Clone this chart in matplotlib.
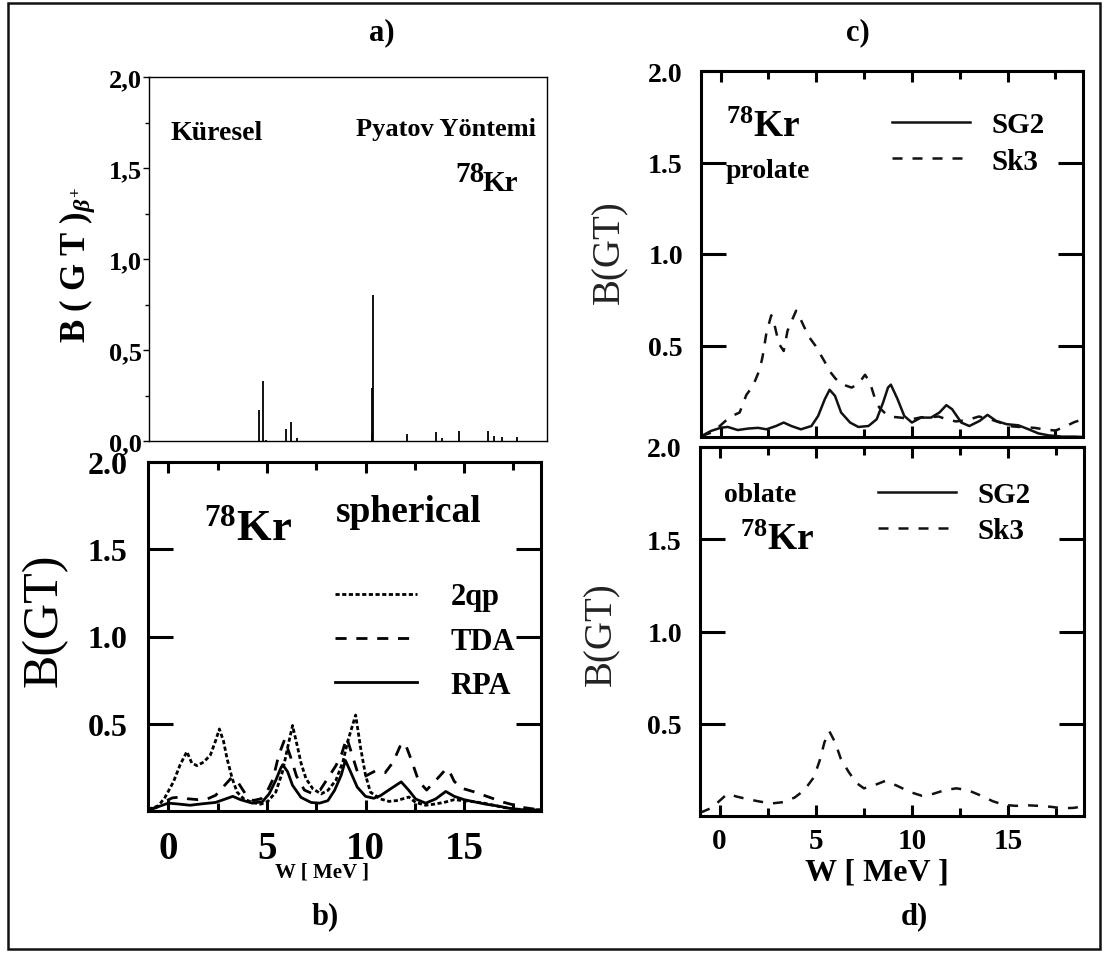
import numpy as np
import matplotlib
matplotlib.use('Agg')
import matplotlib.pyplot as plt
from matplotlib.patches import Rectangle
from matplotlib.ticker import MultipleLocator, FuncFormatter

plt.rcParams['font.family'] = ['Liberation Serif', 'DejaVu Serif']
plt.rcParams['font.weight'] = 'bold'
plt.rcParams['mathtext.fontset'] = 'custom'
plt.rcParams['mathtext.rm'] = 'Liberation Serif:bold'
plt.rcParams['mathtext.bf'] = 'Liberation Serif:bold'
plt.rcParams['mathtext.it'] = 'Liberation Serif:italic:bold'

# ---- panel a: Pyatov stick spectrum (W [MeV], B(GT))
a_energy = [4.49, 4.66, 4.83, 5.83, 6.07, 6.37, 10.12, 10.15, 10.20, 11.87,
            13.34, 13.63, 14.49, 15.93, 16.25, 16.66, 17.41]
a_bgt = [0.17, 0.33, 0.007, 0.068, 0.102, 0.018, 0.038, 0.29, 0.80, 0.04,
         0.05, 0.018, 0.057, 0.055, 0.027, 0.022, 0.022]

# ---- panel b: spherical 2qp / TDA / RPA
b_2qp = np.array([
    [-1.0, 0.01], [-0.5, 0.03], [-0.17, 0.078], [0.26, 0.167], [0.6, 0.265],
    [0.94, 0.34], [1.19, 0.275], [1.45, 0.26], [1.79, 0.28], [2.13, 0.32],
    [2.39, 0.40], [2.59, 0.47], [2.8, 0.40], [2.98, 0.30], [3.24, 0.186],
    [3.49, 0.108], [3.83, 0.069], [4.26, 0.049], [4.68, 0.039], [5.03, 0.053],
    [5.45, 0.108], [5.79, 0.225], [6.05, 0.363], [6.3, 0.49], [6.56, 0.363],
    [6.73, 0.275], [6.98, 0.186], [7.33, 0.127], [7.75, 0.098], [8.09, 0.118],
    [8.5, 0.176], [8.86, 0.284], [9.1, 0.40], [9.5, 0.55], [9.75, 0.363],
    [10.0, 0.206], [10.25, 0.108], [10.76, 0.069], [11.19, 0.055], [11.6, 0.06],
    [12.2, 0.08], [12.54, 0.049], [13.05, 0.033], [13.47, 0.039], [13.98, 0.049],
    [14.5, 0.065], [15.0, 0.059], [15.5, 0.053], [16.0, 0.045], [16.5, 0.033],
    [17.0, 0.02], [17.7, 0.01], [18.9, 0.006]])
b_tda = np.array([
    [-1.0, 0.01], [-0.6, 0.02], [-0.25, 0.05], [0.2, 0.075], [0.6, 0.08],
    [1.0, 0.07], [1.5, 0.065], [2.0, 0.07], [2.4, 0.09], [2.8, 0.14],
    [3.2, 0.19], [3.5, 0.17], [3.9, 0.1], [4.3, 0.06], [4.7, 0.07],
    [5.0, 0.11], [5.3, 0.18], [5.6, 0.32], [5.9, 0.41], [6.2, 0.31],
    [6.5, 0.2], [6.9, 0.12], [7.3, 0.1], [7.7, 0.12], [8.1, 0.19],
    [8.5, 0.26], [8.8, 0.33], [9.05, 0.42], [9.3, 0.33], [9.6, 0.22],
    [10.0, 0.2], [10.5, 0.23], [11.0, 0.22], [11.4, 0.28], [11.75, 0.37],
    [12.0, 0.39], [12.3, 0.3], [12.7, 0.17], [13.1, 0.12], [13.6, 0.18],
    [14.0, 0.23], [14.2, 0.24], [14.5, 0.17], [14.9, 0.13], [15.5, 0.11],
    [16.0, 0.09], [16.5, 0.07], [17.0, 0.05], [17.5, 0.035], [18.0, 0.02],
    [18.5, 0.012], [18.9, 0.008]])
b_rpa = np.array([
    [-1.0, 0.005], [-0.5, 0.025], [0.0, 0.045], [0.51, 0.04], [1.1, 0.033],
    [1.7, 0.041], [2.39, 0.049], [2.9, 0.069], [3.27, 0.084], [3.66, 0.065],
    [4.26, 0.045], [4.77, 0.053], [5.11, 0.098], [5.45, 0.176], [5.7, 0.245],
    [5.8, 0.265], [6.05, 0.225], [6.3, 0.147], [6.73, 0.078], [7.24, 0.049],
    [7.67, 0.045], [8.09, 0.059], [8.43, 0.118], [8.77, 0.206], [8.98, 0.29],
    [9.24, 0.225], [9.58, 0.137], [10.0, 0.084], [10.42, 0.073], [10.76, 0.088],
    [11.27, 0.127], [11.81, 0.167], [12.2, 0.118], [12.54, 0.069], [13.05, 0.045],
    [13.56, 0.069], [14.07, 0.112], [14.5, 0.084], [15.0, 0.065], [15.5, 0.053],
    [16.1, 0.039], [16.7, 0.029], [17.37, 0.014], [18.05, 0.006], [18.9, 0.006]])

# ---- panel c: prolate SG2 / Sk3
c_sg2 = np.array([
    [-1.0, 0.005], [-0.5, 0.033], [0.0, 0.05], [0.38, 0.055], [0.9, 0.038],
    [1.43, 0.046], [1.96, 0.05], [2.4, 0.042], [2.9, 0.06], [3.3, 0.079],
    [3.7, 0.06], [4.2, 0.042], [4.75, 0.06], [5.1, 0.115], [5.45, 0.207],
    [5.7, 0.258], [5.98, 0.225], [6.3, 0.134], [6.77, 0.079], [7.2, 0.055],
    [7.73, 0.06], [8.16, 0.097], [8.5, 0.19], [8.75, 0.27], [8.9, 0.286],
    [9.25, 0.207], [9.6, 0.115], [10.0, 0.079], [10.47, 0.106], [11.0, 0.106],
    [11.44, 0.134], [11.8, 0.174], [12.1, 0.152], [12.58, 0.079], [13.0, 0.06],
    [13.54, 0.088], [13.95, 0.121], [14.4, 0.088], [14.95, 0.07], [15.56, 0.064],
    [16.1, 0.042], [16.6, 0.02], [17.14, 0.009], [17.84, 0.002], [18.54, 0.002],
    [18.9, 0.0]])
c_sk3 = np.array([
    [-1.0, 0.005], [-0.4, 0.027], [0.5, 0.11], [1.0, 0.134], [1.35, 0.23],
    [1.7, 0.28], [2.05, 0.37], [2.2, 0.44], [2.4, 0.57], [2.65, 0.665],
    [2.85, 0.6], [3.05, 0.51], [3.3, 0.47], [3.5, 0.58], [3.7, 0.63],
    [3.95, 0.69], [4.2, 0.64], [4.6, 0.55], [4.95, 0.5], [5.45, 0.41],
    [5.7, 0.36], [6.0, 0.32], [6.3, 0.29], [6.85, 0.27], [7.2, 0.29],
    [7.55, 0.34], [7.8, 0.3], [8.1, 0.2], [8.3, 0.16], [8.7, 0.12],
    [9.0, 0.11], [9.4, 0.106], [10.0, 0.097], [10.5, 0.108], [11.0, 0.108],
    [11.4, 0.112], [11.8, 0.097], [12.3, 0.085], [12.9, 0.093], [13.5, 0.112],
    [14.0, 0.1], [14.6, 0.079], [15.0, 0.06], [15.6, 0.055], [16.4, 0.05],
    [16.9, 0.042], [17.5, 0.035], [18.0, 0.057], [18.5, 0.082], [18.9, 0.095]])

# ---- panel d: oblate Sk3
d_sk3 = np.array([
    [-1.0, 0.018], [-0.4, 0.045], [0.4, 0.12], [0.9, 0.105], [1.5, 0.09],
    [2.1, 0.078], [2.7, 0.068], [3.3, 0.075], [3.9, 0.10], [4.4, 0.14],
    [4.9, 0.21], [5.2, 0.30], [5.45, 0.40], [5.7, 0.46], [6.0, 0.40],
    [6.3, 0.31], [6.7, 0.24], [7.1, 0.18], [7.5, 0.15], [8.0, 0.165],
    [8.6, 0.19], [9.2, 0.165], [9.9, 0.13], [10.5, 0.11], [11.1, 0.12],
    [11.7, 0.14], [12.3, 0.15], [12.9, 0.14], [13.6, 0.11], [14.2, 0.08],
    [14.8, 0.06], [15.4, 0.055], [16.0, 0.058], [16.6, 0.055], [17.2, 0.05],
    [17.8, 0.042], [18.4, 0.044], [18.9, 0.052]])

W, H = 1105, 954
fig = plt.figure(figsize=(W / 100, H / 100), dpi=100)


def rect(l, t, r, b):
    return [l / W, 1 - b / H, (r - l) / W, (b - t) / H]


def framed(ax, lw=2.2):
    for s in ax.spines.values():
        s.set_linewidth(lw)
    ax.set_ylim(0, 2.0)
    ax.set_yticks([0.5, 1.0, 1.5, 2.0])
    ax.xaxis.set_major_locator(MultipleLocator(5))
    ax.xaxis.set_minor_locator(MultipleLocator(2.5))
    ax.tick_params(axis='y', which='major', direction='in', length=18,
                   width=lw, left=True, right=True)
    ax.tick_params(axis='x', which='major', direction='in', length=8,
                   width=lw, top=True, bottom=True)
    ax.tick_params(axis='x', which='minor', direction='in', length=6,
                   width=lw, top=True, bottom=True)


# ---------------- panel a
ax_a = fig.add_axes(rect(149, 78, 547, 442))
ax_a.vlines(a_energy, 0, a_bgt, color='k', lw=1.3)
ax_a.set_xlim(-1.03, 18.9)
ax_a.set_ylim(0, 2.0)
ax_a.yaxis.set_major_locator(MultipleLocator(0.5))
ax_a.yaxis.set_minor_locator(MultipleLocator(0.25))
ax_a.yaxis.set_major_formatter(FuncFormatter(lambda v, _: f'{v:.1f}'.replace('.', ',')))
ax_a.tick_params(axis='y', which='major', direction='out', length=4, width=1, pad=1,
                 labelsize=19)
ax_a.tick_params(axis='y', which='minor', direction='out', length=3, width=1)
ax_a.set_xticks([])
for s in ax_a.spines.values():
    s.set_linewidth(1.0)
ax_a.set_ylabel(r'B ( G T )$_{\beta^{+}}$', fontsize=25, fontweight='bold')
ax_a.yaxis.set_label_coords(-0.13, 0.486)
ax_a.text(0.055, 0.83, 'Küresel', transform=ax_a.transAxes, fontsize=20,
          va='baseline')
ax_a.text(0.52, 0.84, 'Pyatov Yöntemi', transform=ax_a.transAxes, fontsize=19,
          va='baseline')
ax_a.text(0.77, 0.715, '78', transform=ax_a.transAxes, fontsize=21, va='baseline')
ax_a.text(0.837, 0.69, 'Kr', transform=ax_a.transAxes, fontsize=21, va='baseline')

# ---------------- panel b
ax_b = fig.add_axes(rect(148, 463, 541, 812))
ax_b.plot(b_2qp[:, 0], b_2qp[:, 1], color='k', lw=2.0, ls=(0, (1.5, 0.9)), label='2qp')
ax_b.plot(b_tda[:, 0], b_tda[:, 1], color='k', lw=2.0, ls=(0, (4, 3.5)), label='TDA')
ax_b.plot(b_rpa[:, 0], b_rpa[:, 1], color='k', lw=2.0, label='RPA')
ax_b.set_xlim(-1.03, 18.9)
framed(ax_b, 2.2)
ax_b.tick_params(axis='y', labelsize=23, pad=15)
ax_b.tick_params(axis='x', labelsize=28, pad=14)
ax_b.set_ylabel('B(GT)', fontsize=36)
ax_b.yaxis.set_label_coords(-0.205, 0.55)
ax_b.text(0.1425, 0.779, r'$^{78}$Kr', transform=ax_b.transAxes, fontsize=32,
          va='baseline')
ax_b.text(0.478, 0.831, 'spherical', transform=ax_b.transAxes, fontsize=27,
          va='baseline')
ax_b.legend(loc='upper left', bbox_to_anchor=(0.476, 0.655), frameon=False,
            fontsize=22, handlelength=2.68, handletextpad=1.1, labelspacing=0.5,
            borderpad=0, borderaxespad=0)

# ---------------- panel c
ax_c = fig.add_axes(rect(701, 72, 1083, 438))
ax_c.plot(c_sg2[:, 0], c_sg2[:, 1], color='#111111', lw=1.8, label='SG2')
ax_c.plot(c_sk3[:, 0], c_sk3[:, 1], color='#111111', lw=1.8, ls=(0, (4, 4)),
          label='Sk3')
ax_c.set_xlim(-1.02, 18.94)
framed(ax_c, 2.2)
ax_c.tick_params(axis='y', labelsize=20, pad=13)
ax_c.tick_params(axis='x', labelbottom=False)
ax_c.set_ylabel('B(GT)', fontsize=28, fontweight='normal', color='#222222')
ax_c.yaxis.set_label_coords(-0.191, 0.508)
ax_c.text(0.065, 0.822, r'$^{78}$Kr', transform=ax_c.transAxes, fontsize=27,
          va='baseline')
ax_c.text(0.065, 0.71, 'prolate', transform=ax_c.transAxes, fontsize=20,
          va='baseline')
ax_c.legend(loc='upper left', bbox_to_anchor=(0.5, 0.89), frameon=False,
            fontsize=21, handlelength=2.66, handletextpad=0.75, labelspacing=0.32,
            borderpad=0, borderaxespad=0)

# ---------------- panel d
ax_d = fig.add_axes(rect(700, 448, 1084, 817))
ax_d.plot([], [], color='#111111', lw=1.8, label='SG2')
ax_d.plot(d_sk3[:, 0], d_sk3[:, 1], color='#111111', lw=1.8, ls=(0, (4, 4)),
          label='Sk3')
ax_d.set_xlim(-1.02, 18.94)
framed(ax_d, 2.2)
ax_d.tick_params(axis='y', labelsize=20, pad=13)
ax_d.tick_params(axis='x', labelsize=21, pad=8)
ax_d.set_ylabel('B(GT)', fontsize=28, fontweight='normal', color='#222222')
ax_d.yaxis.set_label_coords(-0.208, 0.496)
ax_d.text(0.0625, 0.854, 'oblate', transform=ax_d.transAxes, fontsize=20,
          va='baseline')
ax_d.text(0.104, 0.724, r'$^{78}$Kr', transform=ax_d.transAxes, fontsize=27,
          va='baseline')
ax_d.legend(loc='upper left', bbox_to_anchor=(0.4635, 0.908), frameon=False,
            fontsize=21, handlelength=2.66, handletextpad=0.75, labelspacing=0.32,
            borderpad=0, borderaxespad=0)

# ---------------- figure-level labels and frame
fig.text(382 / W, 1 - 33 / H, 'a)', fontsize=22, ha='center', va='center')
fig.text(858 / W, 1 - 33 / H, 'c)', fontsize=22, ha='center', va='center')
fig.text(325 / W, 1 - 917 / H, 'b)', fontsize=22, ha='center', va='center')
fig.text(914 / W, 1 - 917 / H, 'd)', fontsize=22, ha='center', va='center')
fig.text(322 / W, 1 - 873 / H, 'W [ MeV ]', fontsize=15, ha='center', va='center')
fig.text(877 / W, 1 - 873 / H, 'W [ MeV ]', fontsize=23, ha='center', va='center')
fig.add_artist(Rectangle((8 / W, 1 - 950 / H), 1092 / W, 946 / H,
                         transform=fig.transFigure, fill=False, lw=1.8,
                         edgecolor='#111111'))

fig.savefig('out.png', dpi=100)
